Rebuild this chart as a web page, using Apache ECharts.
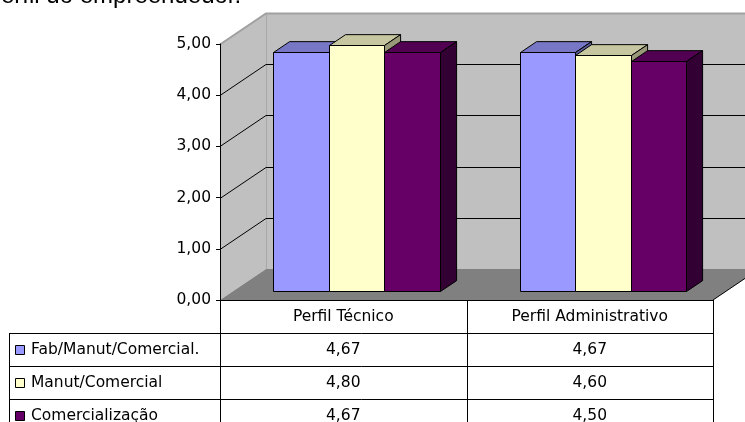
<!DOCTYPE html>
<html>
<head>
<meta charset="utf-8">
<script src="https://cdn.jsdelivr.net/npm/echarts@6/dist/echarts.min.js"></script>
<style>
  html, body { margin: 0; padding: 0; background: #fff; }
  #chart { width: 745px; height: 422px; }
</style>
</head>
<body>
<div id="chart"></div>
<script>
// ---- data ----
const titleText = 'Perfil do empreendedor.';
const categories = ['Perfil Técnico', 'Perfil Administrativo'];
const seriesNames = ['Fab/Manut/Comercial.', 'Manut/Comercial', 'Comercialização'];
const fabManutComercial = [4.67, 4.67];
const manutComercial = [4.80, 4.60];
const comercializacao = [4.67, 4.50];
const valueTicks = [0, 1, 2, 3, 4, 5];

const seriesValues = [fabManutComercial, manutComercial, comercializacao];

// ---- look ----
const faceColors = [
  { front: '#9999ff', top: '#7777c6', side: '#5c5c99' },
  { front: '#ffffcc', top: '#c6c6a0', side: '#99997a' },
  { front: '#660066', top: '#520052', side: '#330033' }
];
const FONT = 'DejaVu Sans';
const FONT_SIZE = 15.5;

// oblique projection used for the depth of the plot box
const DEPTH_X = 46, DEPTH_Y = 31;
const BAR_FRONT = 0.29, BAR_BACK = 0.64;   // bar slab position along the depth
const BAR_SHARE = 0.225;                   // one bar's width as share of a category band

const fmt = v => v.toFixed(2).replace('.', ',');
const px = v => Math.round(v) + 0.5;

function lineEl(a, b, c, d, color, width) {
  return {
    type: 'line',
    shape: { x1: a, y1: b, x2: c, y2: d },
    style: { stroke: color || '#000', lineWidth: width || 1 }
  };
}

function textEl(x, y, str, align) {
  return {
    type: 'text', x: x, y: y,
    style: {
      text: str, fill: '#000', fontFamily: FONT, fontSize: FONT_SIZE,
      align: align, verticalAlign: 'middle'
    }
  };
}

// back wall, side wall, floor and the gridlines drawn on the walls
function renderWalls(params, api) {
  const cs = params.coordSys;
  const x0 = cs.x, x1 = cs.x + cs.width, yT = cs.y, yB = cs.y + cs.height;
  const dx = DEPTH_X, dy = DEPTH_Y;
  const children = [
    { type: 'polygon', shape: { points: [[x0 + dx, yT - dy], [x1 + dx + 60, yT - dy], [x1 + dx + 60, yB - dy], [x0 + dx, yB - dy]] }, style: { fill: '#c0c0c0' } },
    { type: 'polygon', shape: { points: [[x0, yT], [x0 + dx, yT - dy], [x0 + dx, yB - dy], [x0, yB]] }, style: { fill: '#c0c0c0' } },
    { type: 'polygon', shape: { points: [[x0, yB], [x0 + dx, yB - dy], [x1 + dx, yB - dy], [x1, yB]] }, style: { fill: '#808080' } }
  ];
  children.push(lineEl(px(x0 + dx), yT - dy, px(x0 + dx), yB - dy, '#a8a8a8', 1));
  valueTicks.forEach(function (v, i) {
    if (i === 0) return;
    const y = api.coord([0, v])[1];
    const isTop = i === valueTicks.length - 1;
    children.push({
      type: 'polyline',
      shape: { points: [[x0, px(y)], [x0 + dx, px(y - dy)], [x1 + dx + 60, px(y - dy)]] },
      style: { stroke: isTop ? '#a0a0a0' : '#000', lineWidth: isTop ? 2 : 1, fill: null }
    });
  });
  children.push(lineEl(x1, yB, x1 + dx, yB - dy, '#000', 1));
  return { type: 'group', children: children };
}

// one 3D bar: front face, top face, right side face
function makeBarRenderer(k) {
  const colors = faceColors[k];
  return function (params, api) {
    const cat = api.value(0);
    const topPt = api.coord([cat, api.value(1)]);
    const basePt = api.coord([cat, 0]);
    const band = api.size([1, 0])[0];
    const w = band * BAR_SHARE;
    const n = seriesValues.length;
    const fx = DEPTH_X * BAR_FRONT, fy = DEPTH_Y * BAR_FRONT;
    const bx = DEPTH_X * (BAR_BACK - BAR_FRONT), by = DEPTH_Y * (BAR_BACK - BAR_FRONT);
    const xl = Math.round(topPt[0] - w * n / 2 + k * w + fx) + 0.5;
    const xr = Math.round(topPt[0] - w * n / 2 + (k + 1) * w + fx) + 0.5;
    const yt = Math.round(topPt[1] - fy) + 0.5;
    const yb = Math.round(basePt[1] - fy) + 0.5;
    const st = { stroke: '#000', lineWidth: 1, lineJoin: 'miter' };
    return {
      type: 'group',
      children: [
        { type: 'polygon', shape: { points: [[xl, yt], [xr, yt], [xr, yb], [xl, yb]] }, style: Object.assign({}, st, { fill: colors.front }) },
        { type: 'polygon', shape: { points: [[xl, yt], [xl + bx, yt - by], [xr + bx, yt - by], [xr, yt]] }, style: Object.assign({}, st, { fill: colors.top }) },
        { type: 'polygon', shape: { points: [[xr, yt], [xr + bx, yt - by], [xr + bx, yb - by], [xr, yb]] }, style: Object.assign({}, st, { fill: colors.side }) }
      ]
    };
  };
}

// data table under the plot, columns aligned with the category bands
function renderTable(params, api) {
  const cs = params.coordSys;
  const left = 9.5;
  const x0 = px(cs.x), x1 = cs.x + cs.width, top = cs.y + cs.height;
  const rowH = 33;
  const band = api.size([1, 0])[0];
  const nRows = seriesNames.length;
  const bottom = top + rowH * (nRows + 1);
  const children = [];
  children.push(lineEl(x0, top, x0, bottom));
  categories.forEach(function (c, j) {
    const cx = api.coord([j, 0])[0];
    children.push(lineEl(px(cx + band / 2), top, px(cx + band / 2), bottom));
    children.push(textEl(cx, top + rowH / 2, c, 'center'));
    seriesValues.forEach(function (vals, k) {
      children.push(textEl(cx, top + rowH * (k + 1.5), fmt(vals[j]), 'center'));
    });
  });
  children.push(lineEl(left, top + rowH, left, bottom));
  for (let r = 1; r <= nRows + 1; r++) {
    children.push(lineEl(left, px(top + rowH * r), x1, px(top + rowH * r)));
  }
  seriesNames.forEach(function (name, k) {
    const ym = Math.round(top + rowH * (k + 1.5));
    children.push({
      type: 'rect',
      shape: { x: 15.5, y: ym - 4.5, width: 9, height: 9 },
      style: { fill: faceColors[k].front, stroke: '#000', lineWidth: 1 }
    });
    children.push(textEl(31, ym, name, 'left'));
  });
  return { type: 'group', children: children };
}

const chart = echarts.init(document.getElementById('chart'), null, { renderer: 'canvas' });

const series = [
  { type: 'custom', name: 'walls', z: 1, clip: false, silent: true, renderItem: renderWalls, data: [[0, 0]] }
];
seriesValues.forEach(function (vals, k) {
  series.push({
    type: 'custom', name: seriesNames[k], z: 2, clip: false,
    renderItem: makeBarRenderer(k),
    encode: { x: 0, y: 1 },
    data: categories.map(function (c, j) { return [j, vals[j]]; })
  });
});
series.push({ type: 'custom', name: 'table', z: 3, clip: false, silent: true, renderItem: renderTable, data: [[0, 0]] });

chart.setOption({
  animation: false,
  backgroundColor: '#ffffff',
  grid: { left: 220, top: 44, width: 493, height: 256 },
  xAxis: {
    type: 'category', data: categories, z: 10,
    axisLine: { show: true, lineStyle: { color: '#000', width: 1 } },
    axisTick: { show: false }, axisLabel: { show: false }, splitLine: { show: false }
  },
  yAxis: {
    type: 'value', min: valueTicks[0], max: valueTicks[valueTicks.length - 1], interval: 1, z: 10,
    axisLine: { show: true, lineStyle: { color: '#000', width: 1 } },
    axisTick: { show: true, length: 4, lineStyle: { color: '#000' } },
    splitLine: { show: false },
    axisLabel: { formatter: fmt, margin: 9, color: '#000', fontFamily: FONT, fontSize: FONT_SIZE }
  },
  graphic: [{
    type: 'text', x: -15, y: -4,
    style: { text: titleText, fill: '#000', fontFamily: 'Liberation Sans', fontSize: 24, verticalAlign: 'middle' }
  }],
  series: series
});
</script>
</body>
</html>
